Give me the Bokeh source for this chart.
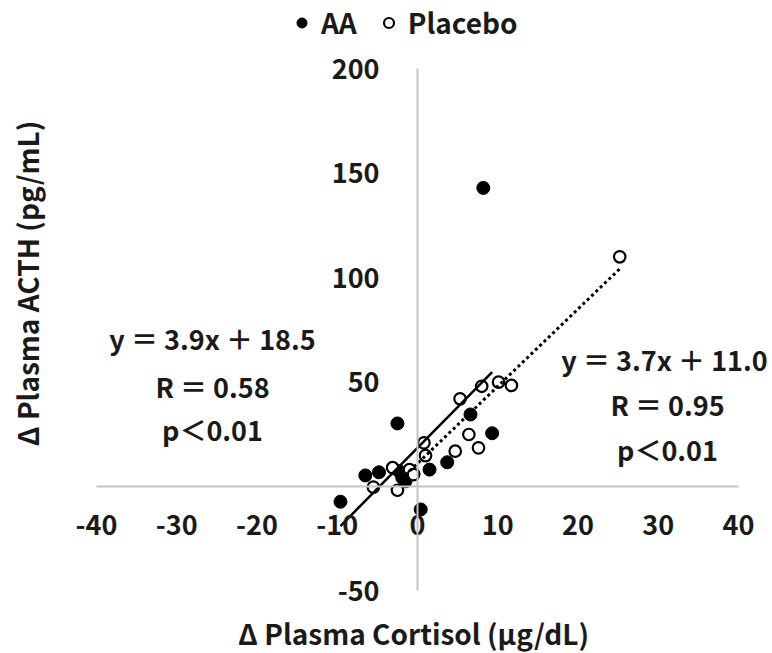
import math
from bokeh.plotting import figure
from bokeh.models import LinearAxis, FixedTicker, Range1d, Legend, LegendItem, PrintfTickFormatter
from bokeh.core.properties import value
from bokeh.embed import file_html
from bokeh.resources import INLINE

# ---------------- data ----------------
aa_x = [-9.6, -6.5, -4.8, -2.5, -2.3, -1.9, -1.5, -0.5, 0.4, 1.5, 3.7, 6.6, 9.3, 8.2]
aa_y = [-7.3, 5.3, 6.8, 30.2, 7.3, 4.2, 2.5, 6.0, -11.0, 8.1, 11.6, 34.5, 25.5, 143.0]

pl_x = [-5.5, -3.1, -2.5, -1.0, -0.5, 1.0, 0.8, 4.7, 6.4, 7.6, 5.3, 8.0, 10.1, 11.7, 25.2]
pl_y = [-0.3, 9.0, -1.8, 8.1, 5.7, 14.8, 20.9, 16.9, 24.9, 18.5, 42.0, 48.0, 50.0, 48.4, 110.0]

# trend lines (equations from the chart) and their x extents
aa_slope, aa_icpt = 3.9, 18.5
pl_slope, pl_icpt = 3.7, 11.0
aa_fit_x = [-9.6, 9.3]
pl_fit_x = [-1.5, 25.2]

x_ticks = [-40, -30, -20, -10, 0, 10, 20, 30, 40]
y_ticks = [-50, 50, 100, 150, 200]

series_names = ["AA", "Placebo"]
eq_texts_aa = ["y ＝ 3.9x ＋ 18.5", "R ＝ 0.58", "p＜0.01"]
eq_texts_pl = ["y ＝ 3.7x ＋ 11.0", "R ＝ 0.95", "p＜0.01"]
x_title = "Δ Plasma Cortisol (μg/dL)"
y_title = "Δ Plasma ACTH (pg/mL)"

# ---------------- layout ----------------
W, H = 772, 653
X0_PX, XSCALE = 417.0, 8.025     # pixel of x=0, px per unit
Y0_PX, YSCALE = 486.0, 2.088     # pixel of y=0, px per unit

def dx(px):
    return (px - X0_PX) / XSCALE

def dy(py):
    return (Y0_PX - py) / YSCALE

FONT = "Noto Sans CJK JP"
INK = "#1a1a1a"

p = figure(width=W, height=H, output_backend="svg", toolbar_location=None,
           x_range=Range1d(dx(0), dx(W)), y_range=Range1d(dy(H), dy(0)),
           x_axis_location=None, y_axis_location=None, min_border=0,
           background_fill_color="white", border_fill_color="white")
p.outline_line_color = None
p.grid.visible = False

AX_COLOR = "#c4c4c4"

xa = LinearAxis(ticker=FixedTicker(ticks=x_ticks), fixed_location=0, bounds=(-40, 40),
                formatter=PrintfTickFormatter(format="%d"))
ya = LinearAxis(ticker=FixedTicker(ticks=y_ticks), fixed_location=0, bounds=(-50, 200),
                formatter=PrintfTickFormatter(format="%d"))
for ax in (xa, ya):
    ax.axis_line_color = AX_COLOR
    ax.axis_line_width = 2
    ax.major_tick_line_color = None
    ax.minor_tick_line_color = None
    ax.major_label_text_font = FONT
    ax.major_label_text_font_size = "27px"
    ax.major_label_text_font_style = "bold"
    ax.major_label_text_color = INK
xa.major_label_standoff = 22
ya.major_label_standoff = 32
p.add_layout(xa, "below")
p.add_layout(ya, "left")

# ---------------- markers ----------------
r_aa = p.scatter(aa_x, aa_y, size=13, marker="circle", fill_color="black", line_color="black")
r_pl = p.scatter(pl_x, pl_y, size=11.5, marker="circle", fill_color="white",
                 line_color="black", line_width=2.2)

# ---------------- trend lines ----------------
aa_fit_y = [aa_slope * v + aa_icpt for v in aa_fit_x]
pl_fit_y = [pl_slope * v + pl_icpt for v in pl_fit_x]
p.line(aa_fit_x, aa_fit_y, line_color="black", line_width=2.5)
p.line(pl_fit_x, pl_fit_y, line_color="black", line_width=3, line_dash="3 3")

# ---------------- annotations ----------------
TXT = dict(text_font=value(FONT), text_font_size="27px", text_font_style="bold",
           text_align="center", text_baseline="middle", text_color=INK)
p.text(x=[dx(212), dx(212), dx(212)], y=[dy(338), dy(386), dy(429)], text=eq_texts_aa, **TXT)
p.text(x=[dx(664), dx(667), dx(667)], y=[dy(359), dy(404), dy(449)], text=eq_texts_pl, **TXT)

# axis titles
TTL = dict(TXT, text_font_size="28px")
p.text(x=[dx(413)], y=[dy(632)], text=[x_title], **TTL)
p.text(x=[dx(26)], y=[dy(283)], text=[y_title], angle=math.pi / 2, **TTL)

# ---------------- legend ----------------
legend = Legend(items=[LegendItem(label=series_names[0], renderers=[r_aa]),
                       LegendItem(label=series_names[1], renderers=[r_pl])],
                orientation="horizontal", location=(289, H - 42),
                padding=0, margin=0, spacing=19, label_standoff=7,
                glyph_width=25, glyph_height=25,
                label_text_font=FONT, label_text_font_size="28px",
                label_text_font_style="bold", label_text_color=INK,
                border_line_color=None, background_fill_alpha=0)
p.add_layout(legend, "center")

open("out.html", "w").write(file_html(p, INLINE))
